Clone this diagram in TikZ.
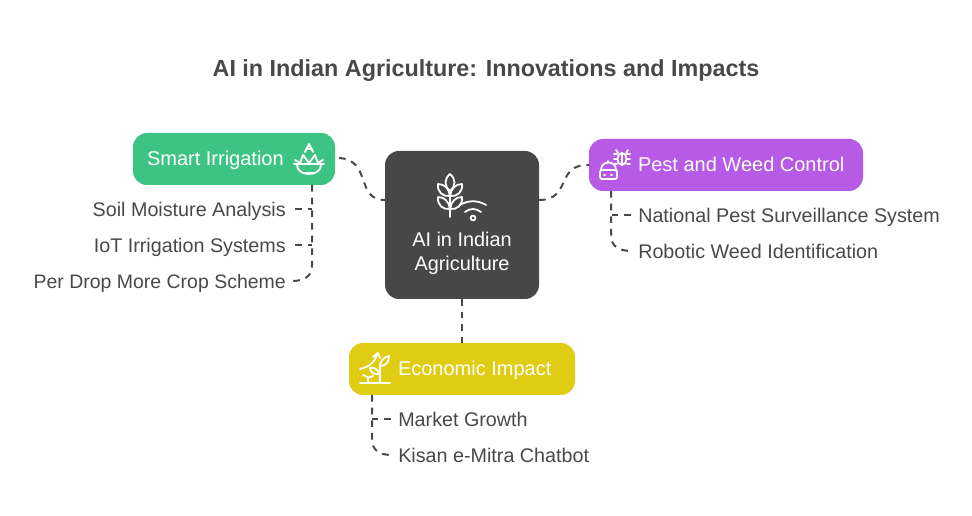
\documentclass[tikz,border=0pt]{standalone}
\usepackage{fontspec}
\setmainfont{Liberation Sans}
\definecolor{inkgrey}{HTML}{484848}
\definecolor{hubgrey}{HTML}{474747}
\definecolor{irrigreen}{HTML}{3DC485}
\definecolor{pestpurple}{HTML}{B75AE5}
\definecolor{econyellow}{HTML}{E0CC12}
\tikzset{
    cardbox/.style={rounded corners=10.5pt, inner sep=0, outer sep=0, text=white, font=\fontsize{15}{18}\selectfont},
    leaftext/.style={text=inkgrey, inner sep=0, font=\fontsize{14.8}{18}\selectfont, anchor=base west},
    linkline/.style={draw=inkgrey, line width=1.5pt, dash pattern=on 5pt off 4.5pt},
    iconline/.style={draw=white, line width=1.35pt, line join=round, line cap=round},
}
\begin{document}
\begin{tikzpicture}[x=.75pt, y=-.75pt]
            \useasboundingbox (0, 0) rectangle (972, 516);

            \node (title) at (486, 71) [text=inkgrey, font=\fontsize{17.5}{22}\selectfont\bfseries] {AI in Indian Agriculture: Innovations and Impacts};

            \node (hub) at (462, 225) [cardbox, fill=hubgrey, minimum width=115.5pt, minimum height=111pt] {};
            \node (hubtext) at (462, 253) [text=white, align=center, font=\fontsize{14.9}{18}\selectfont] {AI in Indian\\Agriculture};
            \node (smart) at (234, 159) [cardbox, fill=irrigreen, minimum width=151.5pt, minimum height=39pt] {};
            \node (pest) at (726, 165) [cardbox, fill=pestpurple, minimum width=205.5pt, minimum height=39pt] {};
            \node (econ) at (462, 369) [cardbox, fill=econyellow, minimum width=169.5pt, minimum height=39pt] {};

            \node (smarttext) at (147, 166) [cardbox, anchor=base west] {Smart Irrigation};
            \node (pesttext) at (638, 172) [cardbox, anchor=base west] {Pest and Weed Control};
            \node (econtext) at (398, 376) [cardbox, anchor=base west] {Economic Impact};

            \node (soil) at (286, 217) [leaftext, anchor=base east] {Soil Moisture Analysis};
            \node (iot) at (286, 253) [leaftext, anchor=base east] {IoT Irrigation Systems};
            \node (drop) at (286, 289) [leaftext, anchor=base east, font=\fontsize{14.6}{18}\selectfont] {Per Drop More Crop Scheme};
            \node (survey) at (638, 223) [leaftext] {National Pest Surveillance System};
            \node (robot) at (638, 259) [leaftext] {Robotic Weed Identification};
            \node (market) at (398, 427) [leaftext] {Market Growth};
            \node (kisan) at (398, 463) [leaftext] {Kisan e-Mitra Chatbot};

            % free ends of the links
            \coordinate (smartout) at (339, 158);
            \coordinate (pestout) at (539, 200);
            \coordinate (smartfoot) at (312, 185);
            \coordinate (pestfoot) at (611, 191);
            \coordinate (econfoot) at (372, 395);

            \draw[linkline] (smartout) .. controls (372, 160) and (355, 200) .. (hub.west |- pestout);
            \draw[linkline] (pestout) .. controls (572, 200) and (555, 164) .. (pest.west);
            \draw[linkline] (hub.south) -- (econ.north);

            \draw[linkline] (smartfoot) -- (312, 265) .. controls (312, 276) and (305, 281) .. (292, 281);
            \draw[linkline] (pestfoot) -- (611, 235) .. controls (611, 246) and (618, 251) .. (632, 251);
            \draw[linkline] (econfoot) -- (372, 439) .. controls (372, 450) and (379, 455) .. (392, 455);
            \foreach \y in {209, 245} {
                \draw[linkline] (295, \y) -- (312, \y);
            }
            \draw[linkline] (631, 215) -- (611, 215);
            \draw[linkline] (391, 419) -- (372, 419);

            % wheat and signal
            \draw[iconline] (450, 217) -- (450, 190);
            \draw[iconline] (450, 174) .. controls (444, 179) and (444, 186) .. (450, 191) .. controls (456, 186) and (456, 179) .. (450, 174);
            \foreach \s in {-1, 1} {
                \draw[iconline] (450 + \s*12, 184) .. controls (450 + \s*13, 192) and (450 + \s*7, 197) .. (450, 196) .. controls (450 + \s*1, 189) and (450 + \s*5, 184) .. (450 + \s*12, 184);
                \draw[iconline] (450 + \s*12, 197) .. controls (450 + \s*13, 205) and (450 + \s*7, 210) .. (450, 209) .. controls (450 + \s*1, 202) and (450 + \s*5, 197) .. (450 + \s*12, 197);
            }
            \draw[iconline] (460, 205) .. controls (468, 200) and (478, 200) .. (486, 205);
            \draw[iconline] (465, 212) .. controls (470, 208) and (476, 208) .. (481, 212);
            \draw[iconline] (473, 218) circle (2.4);

            % bowl and lotus
            \draw[iconline] (294, 164) -- (324, 164);
            \draw[iconline] (297, 165) .. controls (297, 177) and (321, 177) .. (321, 165);
            \draw[iconline] (303, 173) -- (315, 173);
            \draw[iconline] (305, 152) -- (309, 144) -- (313, 152);
            \draw[iconline] (306, 149) -- (312, 149);
            \draw[iconline] (300, 163) -- (303, 155) -- (309, 163) -- (315, 155) -- (318, 163);
            \draw[iconline] (295, 160) -- (300, 163);
            \draw[iconline] (323, 160) -- (318, 163);

            % bug and robot
            \draw[iconline] (622, 153) .. controls (616, 153) and (616, 165) .. (622, 165) .. controls (628, 165) and (628, 153) .. (622, 153);
            \draw[iconline] (622, 153) -- (622, 165);
            \draw[iconline] (618, 153) -- (616, 150);
            \draw[iconline] (626, 153) -- (628, 150);
            \foreach \y in {154, 159, 164} {
                \draw[iconline] (614, \y) -- (617, \y);
                \draw[iconline] (627, \y) -- (630, \y);
            }
            \draw[iconline] (601, 170) .. controls (601, 160) and (616, 160) .. (616, 170);
            \draw[iconline, rounded corners=1.5pt] (600, 170) rectangle (617, 179);
            \draw[iconline] (608, 163) -- (608, 161);
            \draw[iconline] (604, 175) -- (605, 175);
            \draw[iconline] (611, 175) -- (612, 175);

            % plant and growth arrow
            \draw[iconline] (360, 383) -- (390, 383);
            \draw[iconline] (380, 383) -- (380, 364);
            \draw[iconline] (380, 366) .. controls (381, 359) and (385, 357) .. (389, 356) .. controls (389, 362) and (386, 366) .. (380, 366);
            \draw[iconline] (379, 374) .. controls (378, 369) and (374, 367) .. (370, 368) .. controls (370, 372) and (374, 375) .. (379, 374);
            \draw[iconline] (368, 383) -- (368, 377);
            \draw[iconline] (368, 377) -- (363, 375);
            \draw[iconline] (368, 378) -- (373, 376);
            \draw[iconline] (360, 369) .. controls (369, 367) and (375, 362) .. (377, 355);
            \draw[iconline] (373, 357) -- (378, 353) -- (380, 358);
        \end{tikzpicture}
\end{document}
